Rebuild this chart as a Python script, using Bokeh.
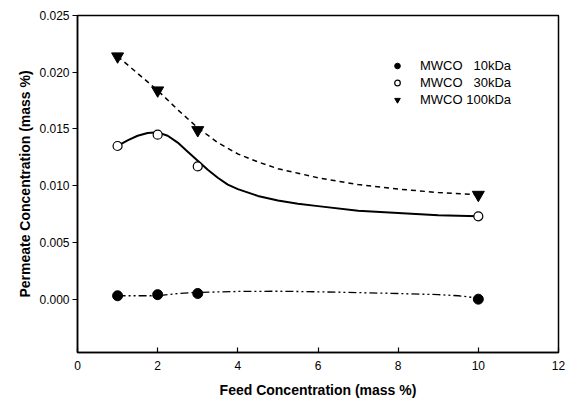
from bokeh.plotting import figure
from bokeh.models import Range1d, FixedTicker, Legend, LegendItem, CustomJSTickFormatter
from bokeh.embed import file_html
from bokeh.resources import INLINE

# Measured permeate concentrations (mass %) at each feed concentration
feed = [1, 2, 3, 10]
mwco_10 = [0.0003, 0.0004, 0.0005, 0.0000]
mwco_30 = [0.0135, 0.0145, 0.0117, 0.0073]
mwco_100 = [0.0214, 0.0184, 0.0149, 0.0092]

# Fitted trend curves
fit_x_10 = [1, 1.5, 2, 2.5, 3, 4, 5, 6, 7, 8, 9, 9.5, 10]
fit_y_10 = [0.0003, 0.0003, 0.0003, 0.0005, 0.0006, 0.00068, 0.0007, 0.00065,
            0.00058, 0.0005, 0.0004, 0.0003, 0.0001]
fit_x_30 = [1, 1.25, 1.5, 1.75, 2, 2.25, 2.5, 2.75, 3, 3.25, 3.5, 3.75, 4,
            4.5, 5, 5.5, 6, 7, 8, 9, 10]
fit_y_30 = [0.0135, 0.0140, 0.0144, 0.01465, 0.0147, 0.0144, 0.0138, 0.0130,
            0.0122, 0.0114, 0.0107, 0.0101, 0.0097, 0.0091, 0.0087, 0.0084,
            0.0082, 0.0078, 0.0076, 0.0074, 0.0073]
fit_x_100 = [1, 1.5, 2, 2.5, 3, 3.5, 4, 4.5, 5, 5.5, 6, 7, 8, 9, 10]
fit_y_100 = [0.0214, 0.0199, 0.0184, 0.0167, 0.0151, 0.0138, 0.0128, 0.0121,
             0.0115, 0.0111, 0.0107, 0.0101, 0.0097, 0.0094, 0.0092]

x_ticks = [0, 2, 4, 6, 8, 10, 12]
y_ticks = [0.000, 0.005, 0.010, 0.015, 0.020, 0.025]
labels = ["MWCO\u00a0\u00a0\u00a010kDa", "MWCO\u00a0\u00a0\u00a030kDa", "MWCO\u00a0100kDa"]

FONT = "Liberation Sans"

p = figure(width=573, height=400, output_backend="svg", toolbar_location=None,
           x_range=Range1d(0, 12), y_range=Range1d(-0.0047, 0.025),
           min_border_left=77, min_border_right=15, min_border_top=15,
           min_border_bottom=48)
p.grid.visible = False
p.outline_line_color = "black"
p.outline_line_width = 1.5
p.background_fill_color = "white"
p.border_fill_color = "white"

# trend lines
p.line(fit_x_100, fit_y_100, line_color="black", line_width=1.5, line_dash="5 4")
p.line(fit_x_30, fit_y_30, line_color="black", line_width=2, line_join="round")
p.line(fit_x_10, fit_y_10, line_color="black", line_width=1.3, line_dash="8 3 2 3 2 3")

# data points
r10 = p.scatter(feed, mwco_10, marker="circle", size=10, fill_color="black", line_color="black")
r30 = p.scatter(feed, mwco_30, marker="circle", size=9, fill_color="white",
                line_color="black", line_width=1.2)
r100 = p.scatter(feed, mwco_100, marker="inverted_triangle", size=12,
                 fill_color="black", line_color="black")

legend = Legend(items=[LegendItem(label=labels[0], renderers=[r10]),
                       LegendItem(label=labels[1], renderers=[r30]),
                       LegendItem(label=labels[2], renderers=[r100])],
                location=(313, 244), padding=0, margin=0, spacing=0,
                glyph_width=14, glyph_height=17, label_height=17,
                label_standoff=16, border_line_color=None,
                background_fill_alpha=0,
                label_text_font=FONT, label_text_font_size="13px",
                label_text_color="black")
p.add_layout(legend, "center")

# axes
for ax in (p.xaxis[0], p.yaxis[0]):
    ax.axis_line_width = 1.5
    ax.axis_line_color = "black"
    ax.major_tick_line_color = "black"
    ax.major_tick_line_width = 1.2
    ax.minor_tick_line_color = None
    ax.major_label_text_font = FONT
    ax.major_label_text_font_size = "12px"
    ax.major_label_text_color = "black"
    ax.axis_label_text_font = FONT
    ax.axis_label_text_font_size = "14px"
    ax.axis_label_text_font_style = "bold"
    ax.axis_label_text_color = "black"

p.xaxis.ticker = FixedTicker(ticks=x_ticks)
p.xaxis.major_tick_in = 5
p.xaxis.major_tick_out = 0
p.xaxis.major_label_standoff = 8
p.xaxis.axis_label = "Feed Concentration (mass %)"
p.xaxis.axis_label_standoff = 9

p.yaxis.ticker = FixedTicker(ticks=y_ticks)
p.yaxis.major_tick_in = 0
p.yaxis.major_tick_out = 5
p.yaxis.major_label_standoff = 3
p.yaxis.formatter = CustomJSTickFormatter(code="return tick.toFixed(3);")
p.yaxis.axis_label = "Permeate Concentration (mass %)"
p.yaxis.axis_label_standoff = 3

open("out.html", "w").write(file_html(p, INLINE))
